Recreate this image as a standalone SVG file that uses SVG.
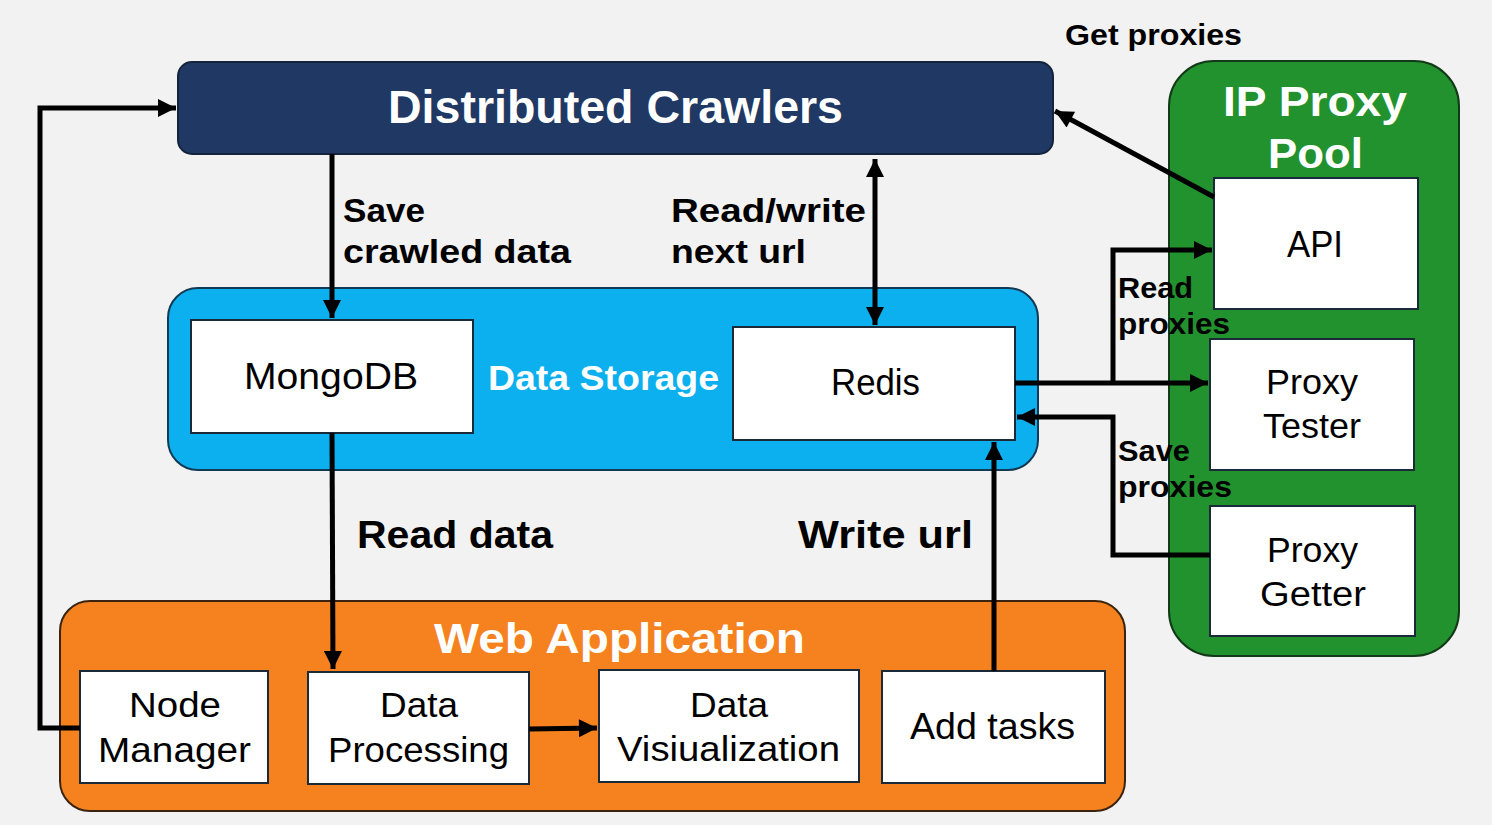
<svg xmlns="http://www.w3.org/2000/svg" width="1492" height="825" viewBox="0 0 1492 825">
<defs>
<style>
.t{font-family:"Liberation Sans","Open Sans",sans-serif;}
.b{font-family:"Liberation Sans","Open Sans",sans-serif;font-weight:bold;}
.w{fill:#ffffff;}
.k{fill:#000000;}
.box{fill:#ffffff;stroke:#1b2a38;stroke-width:2;}
.ln{fill:none;stroke:#000000;stroke-width:5;}
</style>
<marker id="ah" viewBox="0 0 10 10" refX="10" refY="5" markerWidth="4.2" markerHeight="3.6" orient="auto" markerUnits="strokeWidth">
<path d="M0,0 L10,5 L0,10 Z" fill="#000000"/>
</marker>
<marker id="ahs" viewBox="0 0 10 10" refX="0" refY="5" markerWidth="4.2" markerHeight="3.6" orient="auto" markerUnits="strokeWidth">
<path d="M10,0 L0,5 L10,10 Z" fill="#000000"/>
</marker>
</defs>
<rect width="1492" height="825" fill="#f2f2f2"/>

<g id="crawlers">
<rect x="178" y="62" width="875" height="92" rx="14" fill="#203864" stroke="#14243c" stroke-width="2"/>
<text class="b w" x="615.5" y="123" font-size="46" text-anchor="middle" textLength="455" lengthAdjust="spacingAndGlyphs">Distributed Crawlers</text>
</g>

<g id="data-storage">
<rect x="168" y="288" width="870" height="182" rx="30" fill="#0cb0ef" stroke="#123a55" stroke-width="2"/>
<text class="b w" x="603.5" y="390" font-size="35" text-anchor="middle" textLength="231" lengthAdjust="spacingAndGlyphs">Data Storage</text>
</g>

<g id="mongodb">
<rect class="box" x="191" y="320" width="282" height="113"/>
<text class="t k" x="331" y="389" font-size="36" text-anchor="middle" textLength="174" lengthAdjust="spacingAndGlyphs">MongoDB</text>
</g>

<g id="redis">
<rect class="box" x="733" y="327" width="282" height="113"/>
<text class="t k" x="875.5" y="395" font-size="36" text-anchor="middle" textLength="89" lengthAdjust="spacingAndGlyphs">Redis</text>
</g>

<g id="web-application">
<rect x="60" y="601" width="1065" height="210" rx="30" fill="#f5821f" stroke="#3a2410" stroke-width="2"/>
<text class="b w" x="619.5" y="653" font-size="42" text-anchor="middle" textLength="371" lengthAdjust="spacingAndGlyphs">Web Application</text>
</g>

<g id="node-manager">
<rect class="box" x="80" y="671" width="188" height="112"/>
<text class="t k" x="175" y="717" font-size="35" text-anchor="middle" textLength="92" lengthAdjust="spacingAndGlyphs">Node</text>
<text class="t k" x="174.5" y="762" font-size="35" text-anchor="middle" textLength="153" lengthAdjust="spacingAndGlyphs">Manager</text>
</g>

<g id="data-processing">
<rect class="box" x="308" y="672" width="221" height="112"/>
<text class="t k" x="419" y="717" font-size="35" text-anchor="middle" textLength="78" lengthAdjust="spacingAndGlyphs">Data</text>
<text class="t k" x="418.5" y="762" font-size="35" text-anchor="middle" textLength="181" lengthAdjust="spacingAndGlyphs">Processing</text>
</g>

<g id="data-visualization">
<rect class="box" x="599" y="670" width="260" height="112"/>
<text class="t k" x="729" y="717" font-size="35" text-anchor="middle" textLength="78" lengthAdjust="spacingAndGlyphs">Data</text>
<text class="t k" x="728.5" y="761" font-size="35" text-anchor="middle" textLength="223" lengthAdjust="spacingAndGlyphs">Visiualization</text>
</g>

<g id="add-tasks">
<rect class="box" x="882" y="671" width="223" height="112"/>
<text class="t k" x="992.5" y="739" font-size="36" text-anchor="middle" textLength="165" lengthAdjust="spacingAndGlyphs">Add tasks</text>
</g>

<g id="ip-proxy-pool">
<rect x="1169" y="61" width="290" height="595" rx="45" fill="#22922e" stroke="#123a18" stroke-width="2"/>
<text class="b w" x="1315" y="116" font-size="43" text-anchor="middle" textLength="184" lengthAdjust="spacingAndGlyphs">IP Proxy</text>
<text class="b w" x="1315.5" y="168" font-size="43" text-anchor="middle" textLength="95" lengthAdjust="spacingAndGlyphs">Pool</text>
</g>

<g id="api">
<rect class="box" x="1214" y="178" width="204" height="131"/>
<text class="t k" x="1315" y="257" font-size="36" text-anchor="middle" textLength="56" lengthAdjust="spacingAndGlyphs">API</text>
</g>

<g id="proxy-tester">
<rect class="box" x="1210" y="339" width="204" height="131"/>
<text class="t k" x="1312" y="394" font-size="35" text-anchor="middle" textLength="92" lengthAdjust="spacingAndGlyphs">Proxy</text>
<text class="t k" x="1312" y="438" font-size="35" text-anchor="middle" textLength="98" lengthAdjust="spacingAndGlyphs">Tester</text>
</g>

<g id="proxy-getter">
<rect class="box" x="1210" y="506" width="205" height="130"/>
<text class="t k" x="1312.5" y="562" font-size="35" text-anchor="middle" textLength="91" lengthAdjust="spacingAndGlyphs">Proxy</text>
<text class="t k" x="1313" y="606" font-size="35" text-anchor="middle" textLength="106" lengthAdjust="spacingAndGlyphs">Getter</text>
</g>

<g id="connectors">
<polyline class="ln" points="80,728 40,728 40,108 176,108" marker-end="url(#ah)"/>
<line class="ln" x1="332" y1="154" x2="332" y2="318" marker-end="url(#ah)"/>
<line class="ln" x1="875" y1="159" x2="875" y2="325" marker-start="url(#ahs)" marker-end="url(#ah)"/>
<line class="ln" x1="332" y1="433" x2="333" y2="669" marker-end="url(#ah)"/>
<line class="ln" x1="994" y1="671" x2="994" y2="442" marker-end="url(#ah)"/>
<line class="ln" x1="529" y1="729" x2="597" y2="728" marker-end="url(#ah)"/>
<line class="ln" x1="1214" y1="197" x2="1055" y2="111" marker-end="url(#ah)"/>
<line class="ln" x1="1015" y1="383" x2="1208" y2="383" marker-end="url(#ah)"/>
<polyline class="ln" points="1113,383 1113,250 1212,250" marker-end="url(#ah)"/>
<polyline class="ln" points="1210,555 1113,555 1113,417 1017,417" marker-end="url(#ah)"/>
</g>

<g id="labels">
<text class="b k" x="1065" y="45" font-size="30" textLength="177" lengthAdjust="spacingAndGlyphs">Get proxies</text>
<text class="b k" x="343" y="222" font-size="34" textLength="82" lengthAdjust="spacingAndGlyphs">Save</text>
<text class="b k" x="343" y="263" font-size="34" textLength="228" lengthAdjust="spacingAndGlyphs">crawled data</text>
<text class="b k" x="671" y="222" font-size="34" textLength="195" lengthAdjust="spacingAndGlyphs">Read/write</text>
<text class="b k" x="671" y="263" font-size="34" textLength="135" lengthAdjust="spacingAndGlyphs">next url</text>
<text class="b k" x="357" y="548" font-size="39" textLength="196" lengthAdjust="spacingAndGlyphs">Read data</text>
<text class="b k" x="798" y="548" font-size="39" textLength="175" lengthAdjust="spacingAndGlyphs">Write url</text>
<text class="b k" x="1118" y="298" font-size="29" textLength="75" lengthAdjust="spacingAndGlyphs">Read</text>
<text class="b k" x="1118" y="334" font-size="29" textLength="112" lengthAdjust="spacingAndGlyphs">proxies</text>
<text class="b k" x="1118" y="461" font-size="29" textLength="72" lengthAdjust="spacingAndGlyphs">Save</text>
<text class="b k" x="1118" y="497" font-size="29" textLength="114" lengthAdjust="spacingAndGlyphs">proxies</text>
</g>
</svg>
